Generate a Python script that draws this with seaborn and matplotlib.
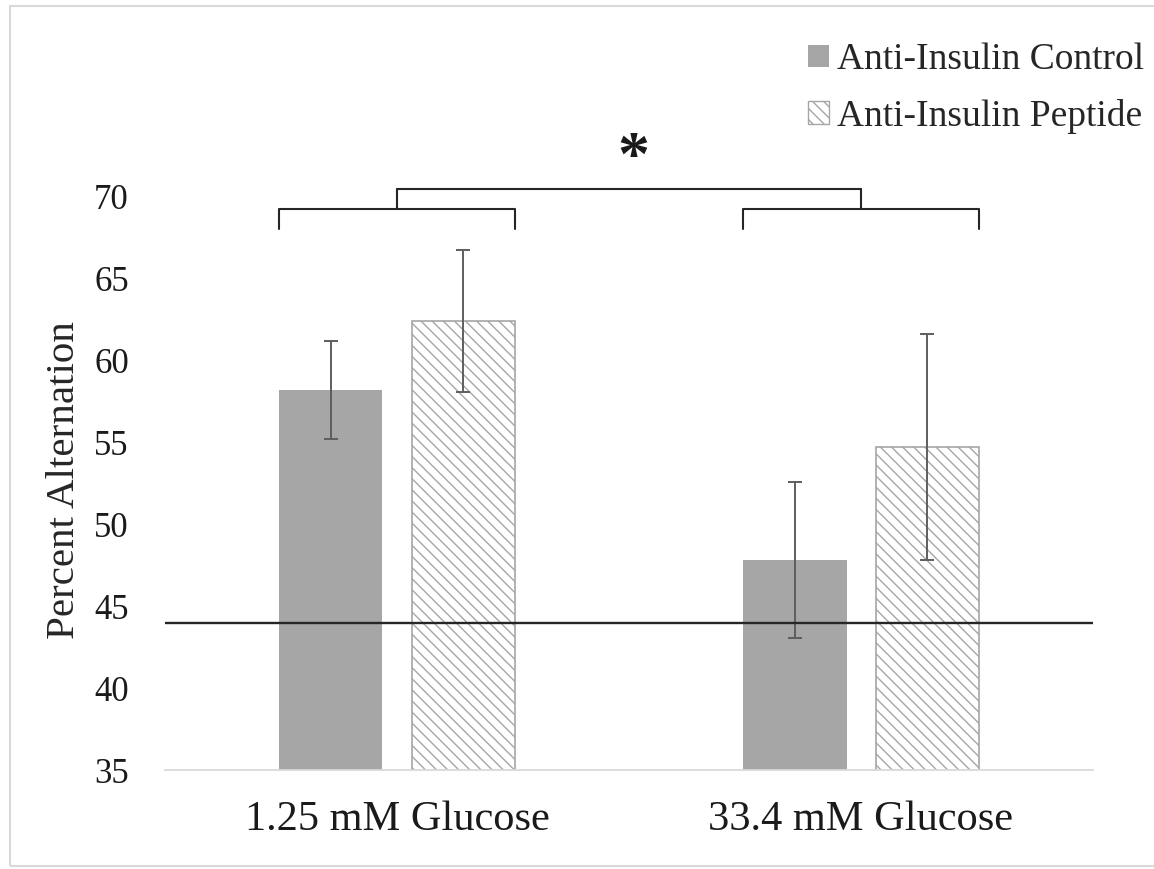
import pandas as pd
import matplotlib.pyplot as plt
import matplotlib.patches as mpatches
import seaborn as sns

# Datos
grupos = ["1.25 mM Glucose", "33.4 mM Glucose"]
tratamientos = ["Anti-Insulin Control", "Anti-Insulin Peptide"]
media_control = [58.2, 47.8]
media_peptido = [62.4, 54.7]
error_control = [3.0, 4.75]
error_peptido = [4.35, 6.9]
nivel_azar = 44.0
yticks = [35, 40, 45, 50, 55, 60, 65, 70]

df = pd.DataFrame({
    "Glucosa": grupos * 2,
    "Tratamiento": [tratamientos[0]] * 2 + [tratamientos[1]] * 2,
    "Alternancia": media_control + media_peptido,
})

sns.set_theme(style="white")
plt.rcParams["font.family"] = ["Liberation Serif", "DejaVu Serif"]
plt.rcParams["hatch.linewidth"] = 1.0

gris = "#a6a6a6"
rayado = "\\\\\\"

fig = plt.figure(figsize=(11.54, 8.69), dpi=100)
ax = fig.add_axes([0.143, 0.1139, 0.8042, 0.660])

sns.barplot(data=df, x="Glucosa", y="Alternancia", hue="Tratamiento",
            order=grupos, hue_order=tratamientos, palette=[gris, "white"],
            saturation=1, width=0.57, gap=0.22, errorbar=None, legend=False, ax=ax)

# estilo de las barras
for p in ax.containers[0]:
    p.set_edgecolor(gris)
    p.set_linewidth(0)
for p in ax.containers[1]:
    p.set_facecolor("white")
    p.set_edgecolor(gris)
    p.set_hatch(rayado)
    p.set_linewidth(1.2)

# barras de error
for cont, errs in zip(ax.containers, [error_control, error_peptido]):
    xs = [p.get_x() + p.get_width() / 2 for p in cont]
    ys = [p.get_height() for p in cont]
    ax.errorbar(xs, ys, yerr=errs, fmt="none", ecolor="#5e5e5e",
                elinewidth=1.4, capsize=5, capthick=1.4, zorder=5)

# linea de azar
ax.axhline(nivel_azar, color="#262626", lw=1.7, zorder=6)

ax.set_ylim(35, 70)
ax.set_xlim(-0.5, 1.5)
ax.set_yticks(yticks)
ax.set_xlabel("")
ax.set_ylabel("Percent Alternation", fontsize=29.5)
ax.yaxis.set_label_coords(-0.088, 0.505)
ax.tick_params(axis="y", length=0, pad=26, labelsize=25, labelcolor="#1a1a1a")
ax.tick_params(axis="x", length=0, pad=22, labelsize=30.5, labelcolor="#1a1a1a")
for s in ["left", "top", "right"]:
    ax.spines[s].set_visible(False)
ax.spines["bottom"].set_color("#d9d9d9")
ax.spines["bottom"].set_linewidth(1.3)

# corchetes de significancia
y_bajo, y_medio, y_alto = 68.0, 69.25, 70.45
centros = []
for i in range(2):
    izq = ax.containers[0][i].get_x()
    der = ax.containers[1][i].get_x() + ax.containers[1][i].get_width()
    ax.plot([izq, izq, der, der], [y_bajo, y_medio, y_medio, y_bajo],
            color="#262626", lw=1.5, clip_on=False)
    c = (izq + der) / 2
    centros.append(c)
    ax.plot([c, c], [y_medio, y_alto], color="#262626", lw=1.5, clip_on=False)
ax.plot(centros, [y_alto, y_alto], color="#262626", lw=1.5, clip_on=False)
ax.text(sum(centros) / 2 + 0.01, 72.2, "*", ha="center", va="center", fontsize=46,
        fontweight="bold", color="#1a1a1a", clip_on=False)

# leyenda
manijas = [mpatches.Patch(facecolor=gris, edgecolor=gris, lw=0),
           mpatches.Patch(facecolor="white", edgecolor=gris, hatch=rayado, lw=1)]
ax.legend(manijas, tratamientos, loc="upper right", bbox_to_anchor=(0.991, 0.951),
          bbox_transform=fig.transFigure, frameon=False, fontsize=27,
          handlelength=0.55, handleheight=0.55, handletextpad=0.2,
          labelspacing=0.58, borderpad=0, borderaxespad=0)

# marco de la figura
fig.add_artist(mpatches.Rectangle((10 / 1154, 3 / 869), 1.2, 860 / 869,
                                  transform=fig.transFigure, fill=False,
                                  edgecolor="#d9d9d9", lw=1.5))

plt.savefig("out.png", dpi=100)
